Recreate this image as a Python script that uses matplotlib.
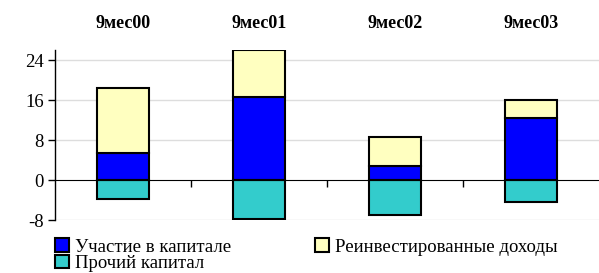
import matplotlib
matplotlib.use("Agg")
import matplotlib.pyplot as plt
from matplotlib.patches import Patch
import numpy as np

plt.rcParams['font.family'] = ['Liberation Serif', 'DejaVu Serif']

categories = ["9мес00", "9мес01", "9мес02", "9мес03"]
participation = [5.4, 16.7, 2.8, 12.5]
reinvested = [13.1, 9.4, 5.9, 3.6]
other = [-3.7, -7.7, -7.0, -4.3]
series_names = ["Участие в капитале", "Прочий капитал", "Реинвестированные доходы"]
yticks = [-8, 0, 8, 16, 24]

fig = plt.figure(figsize=(5.99, 2.73), dpi=100)
ax = fig.add_axes([0.0918, 0.1927, 0.9082, 0.6233])

x = np.arange(len(categories)) + 0.5
w = 0.38
ax.bar(x, participation, w, color="#0000FF", edgecolor="black", linewidth=1.5, zorder=3)
ax.bar(x, reinvested, w, bottom=participation, color="#FFFFC0", edgecolor="black", linewidth=1.5, zorder=3)
ax.bar(x, other, w, color="#33CCCC", edgecolor="black", linewidth=1.5, zorder=3)

ax.set_xlim(0, len(categories))
ax.set_ylim(-8, 26)
ax.set_yticks(yticks)
ax.set_yticklabels([str(t) for t in yticks], fontsize=13.5)
for t in yticks:
    if t != 0:
        ax.axhline(t, color="#DDDDDD", linewidth=1, zorder=1)

ax.spines['top'].set_visible(False)
ax.spines['right'].set_visible(False)
ax.spines['bottom'].set_position(('data', 0))
ax.spines['bottom'].set_zorder(4)
ax.spines['left'].set_linewidth(1)
ax.set_xticks(np.arange(1, len(categories)))
ax.set_xticklabels([])
ax.tick_params(axis='x', direction='out', length=5, width=1)
ax.tick_params(axis='y', direction='out', length=5, width=1, pad=3)

trans = matplotlib.transforms.blended_transform_factory(ax.transData, fig.transFigure)
for xi, c in zip(x, categories):
    ax.text(xi, 1 - 24 / 273, c, transform=trans, ha='center', va='center',
            fontsize=13, fontweight='bold')

handles = [Patch(facecolor="#0000FF", edgecolor="black", linewidth=1.5),
           Patch(facecolor="#33CCCC", edgecolor="black", linewidth=1.5),
           Patch(facecolor="#FFFFC0", edgecolor="black", linewidth=1.5)]
fig.legend(handles, series_names, ncol=2, loc='upper left', bbox_to_anchor=(0.092, 0.127),
           frameon=False, fontsize=13.5, handlelength=0.75, handleheight=0.75,
           handletextpad=0.3, labelspacing=-0.06, columnspacing=4.5, borderpad=0,
           borderaxespad=0)

fig.savefig("out.png", dpi=100)
